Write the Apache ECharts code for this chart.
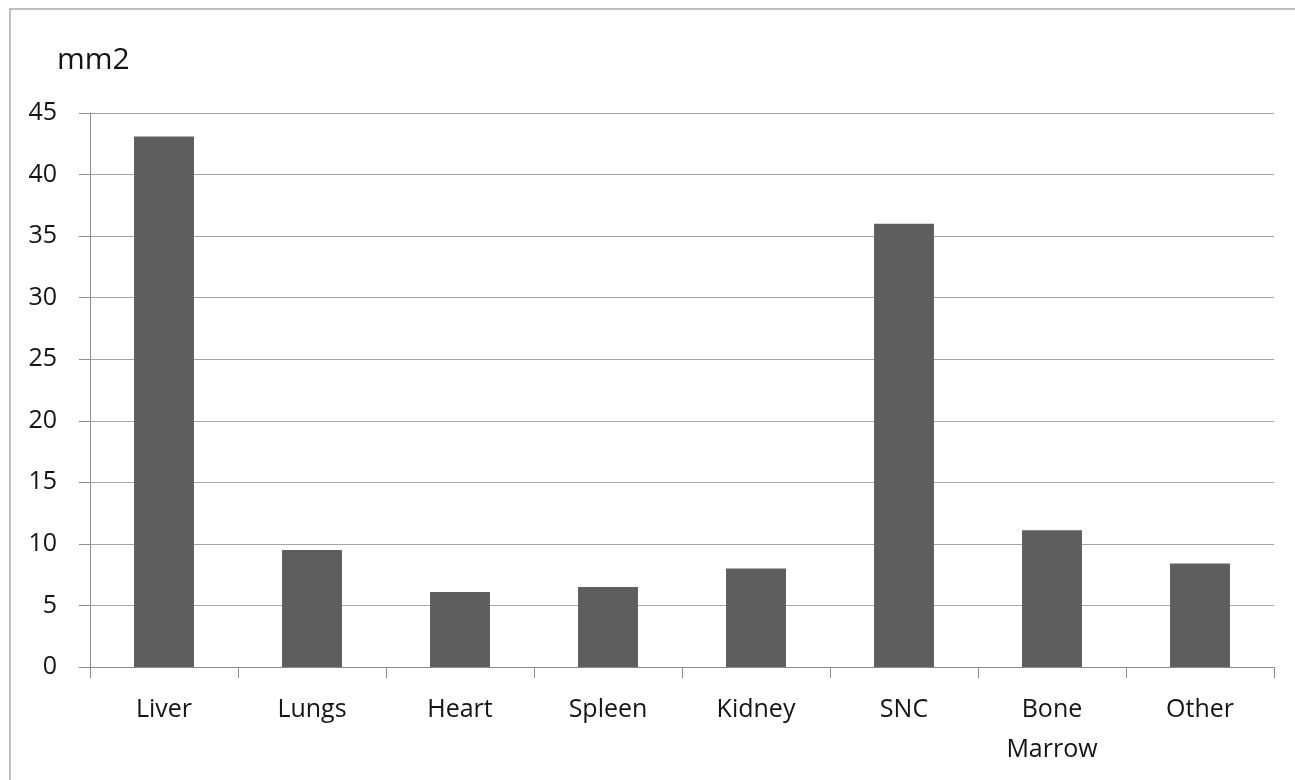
<!DOCTYPE html>
<html>
<head>
<meta charset="utf-8">
<script src="https://cdn.jsdelivr.net/npm/echarts@6/dist/echarts.min.js"></script>
<style>
html,body{margin:0;padding:0;background:#fff;}
#chart{width:1295px;height:780px;}
</style>
</head>
<body>
<div id="chart"></div>
<script>
var categories = ['Liver', 'Lungs', 'Heart', 'Spleen', 'Kidney', 'SNC', 'Bone\nMarrow', 'Other'];
var values = [43.1, 9.5, 6.1, 6.5, 8.0, 36.0, 11.1, 8.4];
var yName = 'mm2';
var yMin = 0, yMax = 45, yStep = 5;

var FONT = '"Open Sans", "DejaVu Sans", sans-serif';
var chart = echarts.init(document.getElementById('chart'), null, {renderer: 'canvas'});
chart.setOption({
  backgroundColor: '#ffffff',
  animation: false,
  graphic: [{
    type: 'polyline',
    shape: {points: [[10, 780], [10, 9], [1295, 9]]},
    style: {stroke: '#bfbfbf', lineWidth: 2, fill: null},
    silent: true
  }],
  grid: {left: 90, right: 21, top: 113, bottom: 113, containLabel: false},
  xAxis: {
    type: 'category',
    data: categories,
    axisLine: {show: true, lineStyle: {color: '#8c8c8c', width: 1}},
    axisTick: {show: true, length: 11, alignWithLabel: false, lineStyle: {color: '#8c8c8c'}},
    axisLabel: {
      color: '#141414', fontFamily: FONT, fontSize: 25, lineHeight: 40,
      margin: 23, interval: 0
    },
    splitLine: {show: false}
  },
  yAxis: {
    type: 'value',
    min: yMin, max: yMax, interval: yStep,
    name: yName,
    nameLocation: 'end',
    nameGap: 38,
    nameTextStyle: {color: '#141414', fontFamily: FONT, fontSize: 30, align: 'left', padding: [0, 0, 0, -33]},
    axisLine: {show: true, lineStyle: {color: '#8c8c8c', width: 1}},
    axisTick: {show: true, length: 11, lineStyle: {color: '#8c8c8c'}},
    axisLabel: {color: '#141414', fontFamily: FONT, fontSize: 25, margin: 33},
    splitLine: {show: true, lineStyle: {color: '#a6a6a6', width: 1}}
  },
  series: [{
    type: 'bar',
    data: values,
    barCategoryGap: '59.5%',
    itemStyle: {color: '#5e5e5e'}
  }]
});
</script>
</body>
</html>
